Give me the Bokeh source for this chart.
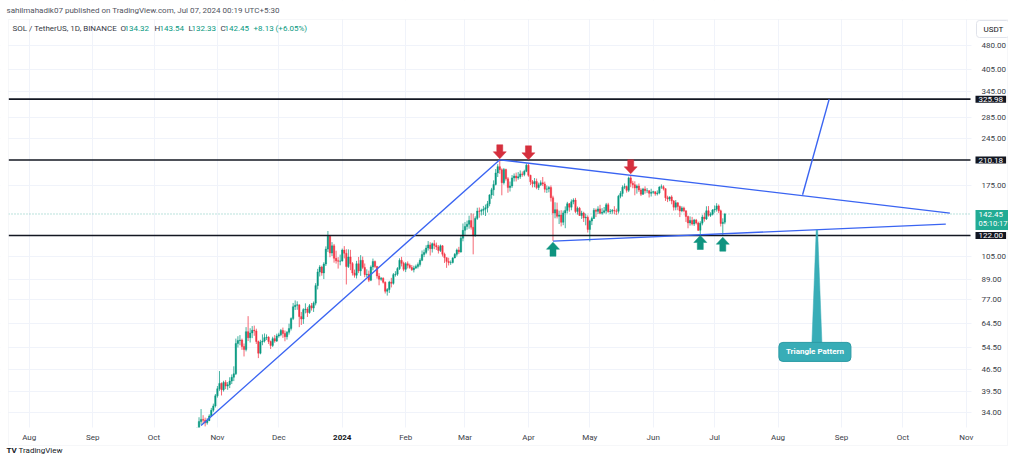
import numpy as np
import pandas as pd
from bokeh.plotting import figure
from bokeh.models import (FixedTicker, Label, Grid, BoxAnnotation, ColumnDataSource)
from bokeh.embed import file_html
from bokeh.resources import INLINE

# ------------------------------------------------------------------ data
BASE = pd.Timestamp("2023-08-01")

candle_start = "2023-10-22"
first_open = 29.7

close_oct = [29.9, 31.9, 32.4, 32.2, 31.6, 32.1, 33.2, 34.6, 35.7, 38.4]
high_oct = [30.6, 32.9, 34.9, 33.4, 32.8, 32.7, 33.6, 35.2, 36.3, 38.9]
low_oct = [29.0, 29.5, 31.2, 31.4, 30.8, 31.2, 32.0, 33.0, 34.2, 35.3]

close_nov = [40.4, 42.0, 40.1, 42.3, 41.2, 41.6, 42.7, 43.9, 45.0, 56.0,
             57.2, 57.4, 54.8, 53.6, 61.0, 58.4, 60.4, 61.6, 61.3, 56.8,
             52.2, 56.6, 57.0, 58.4, 58.6, 56.8, 55.2, 58.0, 57.0, 59.1]
high_nov = [41.2, 45.9, 42.3, 42.8, 43.0, 42.4, 43.9, 44.8, 47.5, 58.0,
            59.0, 59.5, 58.0, 56.0, 63.0, 68.2, 62.5, 63.5, 63.7, 62.3,
            57.2, 57.5, 59.8, 60.2, 59.8, 59.0, 57.2, 58.8, 59.5, 60.1]
low_nov = [37.9, 39.8, 38.5, 39.6, 40.3, 40.1, 40.6, 41.8, 42.7, 44.6,
           54.4, 55.3, 53.5, 51.0, 52.9, 57.0, 56.4, 58.2, 59.2, 55.8,
           50.4, 51.8, 55.3, 56.4, 57.4, 55.8, 53.8, 54.6, 56.3, 56.6]

close_dec = [59.6, 61.5, 60.2, 58.8, 60.7, 62.4, 67.0, 73.0, 73.8, 74.0,
             68.0, 66.8, 71.5, 71.8, 70.0, 73.5, 72.3, 74.9, 85.0, 93.8,
             97.2, 93.1, 99.3, 110.6, 121.4, 107.5, 113.2, 103.5, 101.6, 101.4,
             101.5]
high_dec = [60.5, 62.2, 62.8, 61.5, 61.3, 64.6, 67.6, 75.0, 76.4, 75.9,
            74.2, 70.3, 72.2, 74.8, 72.8, 74.4, 75.0, 75.8, 86.5, 95.9,
            98.5, 98.1, 100.6, 112.8, 126.0, 121.8, 116.3, 114.8, 109.3, 104.4,
            106.3]
low_dec = [58.4, 59.0, 58.3, 56.9, 57.6, 59.7, 61.5, 66.3, 71.3, 71.4,
           63.0, 64.0, 64.5, 69.6, 67.8, 69.4, 71.0, 70.3, 73.7, 82.7,
           90.8, 91.3, 89.1, 97.9, 108.3, 104.3, 105.2, 100.3, 99.6, 96.1,
           98.4]

close_jan = [109.8, 107.3, 97.5, 104.5, 99.6, 93.1, 91.6, 99.5, 94.5, 102.0,
             96.9, 92.0, 92.3, 88.4, 97.2, 101.2, 97.6, 91.1, 89.0, 89.7,
             87.1, 81.6, 82.6, 87.2, 86.4, 92.0, 92.3, 96.1, 102.0, 99.8,
             95.6]
high_jan = [111.0, 113.0, 110.5, 110.4, 110.0, 100.7, 95.4, 101.6, 104.5, 105.9,
            104.8, 99.7, 95.6, 94.7, 98.3, 103.3, 101.8, 98.0, 93.0, 90.4,
            90.2, 87.6, 83.5, 88.0, 89.9, 93.1, 94.3, 97.1, 103.5, 104.6,
            101.0]
low_jan = [101.1, 103.4, 85.7, 96.5, 95.0, 91.4, 90.0, 89.5, 93.0, 91.2,
           95.7, 90.3, 90.3, 87.2, 87.8, 94.9, 96.4, 89.4, 85.2, 88.0,
           86.3, 80.3, 79.1, 80.6, 83.9, 85.6, 90.7, 91.2, 95.1, 97.6,
           94.3]

close_feb = [99.5, 98.4, 96.9, 95.3, 96.5, 97.6, 98.9, 102.0, 106.4, 108.0,
             111.4, 114.0, 110.9, 115.0, 113.6, 112.3, 109.4, 113.2, 106.6, 104.0,
             101.2, 100.3, 100.4, 103.8, 106.5, 109.9, 108.3, 119.7, 126.6]
high_feb = [100.7, 101.2, 99.6, 98.6, 98.1, 98.9, 100.4, 103.5, 109.5, 110.3,
            113.7, 117.2, 116.2, 115.9, 118.0, 115.9, 113.8, 114.3, 113.8, 107.8,
            104.0, 103.9, 101.9, 104.2, 107.5, 111.0, 112.4, 122.0, 133.0]
low_feb = [93.7, 96.2, 95.9, 94.5, 93.5, 95.8, 96.2, 97.5, 101.4, 104.4,
           106.6, 109.4, 105.6, 107.9, 110.5, 109.9, 107.1, 108.3, 104.8, 100.1,
           96.6, 98.3, 98.7, 99.7, 103.5, 104.8, 106.7, 107.8, 117.0]

close_mar = [130.2, 132.3, 135.8, 129.5, 121.6, 138.0, 145.5, 145.3, 146.3, 147.5,
             149.0, 153.3, 163.5, 169.6, 176.3, 191.5, 200.4, 196.0, 178.5, 196.2,
             183.6, 172.3, 174.4, 184.8, 187.3, 184.7, 186.4, 190.2, 189.3, 193.8,
             202.4]
high_mar = [134.4, 135.8, 140.7, 143.2, 142.8, 140.1, 149.0, 149.3, 148.0, 151.0,
            152.5, 156.5, 164.2, 172.0, 181.5, 197.0, 204.0, 210.2, 198.0, 198.5,
            197.5, 185.9, 180.0, 188.6, 190.8, 192.0, 192.7, 195.0, 193.5, 196.0,
            205.2]
low_mar = [122.3, 127.2, 128.1, 127.3, 106.5, 121.0, 136.5, 138.7, 141.0, 141.6,
           140.4, 144.0, 150.6, 159.0, 162.5, 175.0, 186.0, 190.4, 163.0, 176.2,
           181.2, 166.0, 167.5, 172.0, 180.0, 180.1, 182.4, 183.5, 186.3, 187.0,
           192.6]

close_apr = [188.3, 179.6, 177.0, 180.2, 172.4, 175.8, 178.4, 176.9, 170.3, 170.7,
             172.4, 160.2, 143.4, 147.0, 140.1, 141.4, 134.2, 143.6, 146.2, 153.4,
             149.6, 155.6, 157.5, 145.1, 148.4, 140.9, 143.4, 138.5, 139.2, 127.4]
high_apr = [205.0, 189.0, 182.0, 184.6, 183.9, 178.6, 181.5, 186.0, 179.9, 175.0,
            174.3, 175.0, 162.5, 155.0, 154.6, 145.9, 146.4, 146.0, 150.5, 155.5,
            154.2, 158.2, 159.5, 160.0, 150.3, 149.9, 145.8, 144.8, 142.8, 141.1]
low_apr = [186.3, 175.5, 172.5, 172.7, 170.3, 169.3, 174.2, 174.2, 166.3, 165.8,
           166.5, 155.8, 117.3, 138.1, 138.0, 132.5, 130.2, 131.4, 128.6, 143.1,
           144.8, 146.3, 152.8, 143.3, 141.8, 140.6, 137.5, 134.5, 131.3, 124.6]

close_may = [135.4, 137.9, 146.4, 145.2, 147.8, 143.3, 144.2, 145.9, 152.3, 144.9,
             145.4, 146.2, 145.6, 145.3, 161.8, 165.2, 172.7, 173.6, 168.9, 184.8,
             177.9, 175.9, 171.9, 174.2, 169.3, 164.3, 170.6, 168.5, 168.5, 165.3,
             166.6]
high_may = [136.6, 139.8, 148.6, 148.1, 150.6, 152.2, 148.6, 149.8, 154.3, 154.4,
            147.7, 147.6, 150.7, 148.0, 163.5, 168.0, 175.1, 177.5, 174.8, 186.5,
            188.3, 180.9, 180.3, 176.2, 177.5, 171.5, 172.0, 173.9, 171.7, 169.2,
            170.9]
low_may = [116.8, 131.5, 137.5, 139.3, 142.4, 142.4, 141.7, 143.0, 142.7, 143.7,
           142.3, 142.7, 142.2, 141.4, 143.0, 159.5, 161.5, 170.4, 166.2, 166.8,
           172.8, 171.5, 163.0, 165.0, 166.9, 162.1, 163.4, 165.0, 165.6, 160.4,
           161.6]

close_jun = [167.3, 164.8, 165.7, 172.9, 173.4, 171.0, 160.1, 158.6, 161.1, 156.5,
             149.6, 154.4, 150.4, 145.6, 148.8, 145.8, 139.9, 133.6, 136.0, 132.5,
             136.4, 133.4, 126.6, 133.3, 139.4, 137.5, 145.8, 141.1, 142.3, 146.6]
high_jun = [168.4, 167.6, 168.8, 174.0, 176.3, 175.2, 171.5, 162.5, 161.7, 163.0,
            157.5, 157.5, 155.0, 151.4, 150.6, 150.2, 146.0, 140.8, 140.0, 139.5,
            137.5, 137.5, 134.8, 135.2, 141.6, 143.8, 150.6, 150.8, 144.2, 147.6]
low_jun = [164.7, 162.5, 162.8, 164.2, 170.8, 168.8, 156.5, 155.2, 156.2, 152.8,
           146.0, 146.3, 146.4, 139.3, 144.2, 144.3, 134.5, 128.5, 131.0, 131.1,
           130.6, 132.1, 126.0, 122.5, 131.3, 134.8, 136.4, 139.8, 139.5, 141.0]

close_jul = [147.4, 151.0, 145.7, 133.0, 134.32, 142.45]
high_jul = [151.5, 154.0, 152.6, 147.0, 138.1, 143.54]
low_jul = [143.8, 144.9, 143.3, 130.2, 122.0, 132.33]

month_ticks = ["2023-08-01", "2023-09-01", "2023-10-01", "2023-11-01", "2023-12-01",
               "2024-01-01", "2024-02-01", "2024-03-01", "2024-04-01", "2024-05-01",
               "2024-06-01", "2024-07-01", "2024-08-01", "2024-09-01", "2024-10-01",
               "2024-11-01"]
month_labels = ["Aug", "Sep", "Oct", "Nov", "Dec", "2024", "Feb", "Mar", "Apr", "May",
                "Jun", "Jul", "Aug", "Sep", "Oct", "Nov"]
price_ticks = [480, 405, 345, 285, 245, 175, 105, 89, 77, 64.5, 54.5, 46.5, 39.5, 34]

levels = [325.98, 210.18, 122.00]
countdown = "05:10:17"

trend_start_dates = ["2023-10-24", "2024-03-18", "2024-04-13", "2024-08-13"]
trend_start_prices = [31.0, 210.5, 117.1, 163.6]
trend_end_dates = ["2024-03-18", "2024-10-24", "2024-10-22", "2024-08-26"]
trend_end_prices = [210.5, 143.3, 132.4, 325.98]

top_marker_dates = ["2024-03-18", "2024-04-01", "2024-05-21"]
top_marker_tip = [212.1, 210.5, 190.3]
bottom_marker_dates = ["2024-04-13", "2024-06-24", "2024-07-05"]
bottom_marker_tip = [116.2, 122.0, 120.5]

callout_text = "Triangle Pattern"
callout_date = "2024-08-20"
callout_tip_price = 126.9
callout_box_price = 52.7

# ------------------------------------------------------------------ layout constants
W, H = 1008, 454
PX_PER_DAY = 2.046          # horizontal scale
DAY0_PX = 28.7              # pixel of 2023-08-01
PX_PER_LN = 138.7           # vertical (log) scale
REF_PRICE, REF_PY = 480.0, 45.0
PANE_L, PANE_R, PANE_T, PANE_B = 8, 970, 19, 427   # chart pane in pixels

def day(d):
    return (pd.Timestamp(d) - BASE).days

def px_day(px):
    return (px - DAY0_PX) / PX_PER_DAY

def py_price(py):
    return REF_PRICE * np.exp(-(py - REF_PY) / PX_PER_LN)

def sy(py):  # screen y (from bottom) for a pixel row from top
    return H - py

# ------------------------------------------------------------------ candles
closes = (close_oct + close_nov + close_dec + close_jan + close_feb + close_mar +
          close_apr + close_may + close_jun + close_jul)
highs = (high_oct + high_nov + high_dec + high_jan + high_feb + high_mar +
         high_apr + high_may + high_jun + high_jul)
lows = (low_oct + low_nov + low_dec + low_jan + low_feb + low_mar +
        low_apr + low_may + low_jun + low_jul)
n = min(len(closes), len(highs), len(lows))
closes, highs, lows = closes[:n], highs[:n], lows[:n]

x = np.arange(n) + day(candle_start)
o = np.array([first_open] + closes[:-1])
c = np.array(closes)
h = np.maximum(np.array(highs), np.maximum(o, c))
l = np.minimum(np.array(lows), np.minimum(o, c))
UP, DN = "#089981", "#f23645"
col = np.where(c >= o, UP, DN)
src = ColumnDataSource(dict(x=x, h=h, l=l, top=np.maximum(o, c),
                            bot=np.minimum(o, c), col=col))

FONT = "Roboto"
TXT = "#3b3e48"
DARK = "#131722"

# ------------------------------------------------------------------ figure
p = figure(width=W, height=H, y_axis_type="log",
           x_axis_location=None, y_axis_location=None,
           x_range=(px_day(0), px_day(W)), y_range=(py_price(H), py_price(0)),
           output_backend="svg", toolbar_location=None,
           min_border=0)
p.outline_line_color = None
p.background_fill_color = "white"
p.border_fill_color = "white"
p.grid.visible = False

tick_days = [day(d) for d in month_ticks]
GRID = "#f0f3fa"
p.add_layout(Grid(dimension=0, ticker=FixedTicker(ticks=tick_days), grid_line_color=GRID))
p.add_layout(Grid(dimension=1, ticker=FixedTicker(ticks=price_ticks), grid_line_color=GRID))

# candles
p.segment(x0="x", y0="h", x1="x", y1="l", source=src, line_color="col",
          line_width=1, line_alpha=0.75)
p.vbar(x="x", width=0.72, top="top", bottom="bot", source=src, fill_color="col",
       line_color="col", line_width=0.4)

# horizontal levels (within the pane)
xl, xr = px_day(PANE_L), px_day(PANE_R)
p.segment(x0=[xl] * len(levels), y0=levels, x1=[xr] * len(levels), y1=levels,
          line_color=DARK, line_width=1.6)
p.segment(x0=[xl], y0=[float(c[-1])], x1=[xr], y1=[float(c[-1])], line_color=UP,
          line_dash="1 2", line_width=0.8, line_alpha=0.7)

# trend lines
p.segment(x0=[day(d) for d in trend_start_dates], y0=trend_start_prices,
          x1=[day(d) for d in trend_end_dates], y1=trend_end_prices,
          line_color="#3a64f2", line_width=1.4)

# block arrows (shape in pixels relative to the tip)
ARROW = [(0, 0), (6.5, 7), (3, 7), (3, 14), (-3, 14), (-3, 7), (-6.5, 7)]

def arrow_shapes(dates, tips, sign):
    xs, ys = [], []
    for d, t in zip(dates, tips):
        xs.append([day(d) + dx / PX_PER_DAY for dx, dy in ARROW])
        ys.append([t * np.exp(sign * dy / PX_PER_LN) for dx, dy in ARROW])
    return xs, ys

xs, ys = arrow_shapes(top_marker_dates, top_marker_tip, +1)
p.patches(xs, ys, fill_color="#d52f3d", line_color="#d52f3d", line_width=0.5)
xs, ys = arrow_shapes(bottom_marker_dates, bottom_marker_tip, -1)
p.patches(xs, ys, fill_color="#0f9480", line_color="#0f9480", line_width=0.5)

# callout spike + box
cd = day(callout_date)
TEAL = "#38adb7"
base_price = callout_box_price * np.exp(9.5 / PX_PER_LN)
p.patch(x=[cd - 0.7 / PX_PER_DAY, cd + 0.7 / PX_PER_DAY, cd + 5 / PX_PER_DAY, cd - 5 / PX_PER_DAY],
        y=[callout_tip_price, callout_tip_price, base_price, base_price],
        fill_color=TEAL, line_color=TEAL, line_width=0.5)

# white masks outside the chart pane (hide grid / wicks there)
WHITE = dict(fill_color="white", fill_alpha=1.0, line_color=None,
             left_units="screen", right_units="screen", top_units="screen",
             bottom_units="screen")
p.add_layout(BoxAnnotation(left=PANE_R + 1, right=W, bottom=0, top=H, **WHITE))
p.add_layout(BoxAnnotation(left=0, right=W, bottom=0, top=sy(PANE_B), **WHITE))
p.add_layout(BoxAnnotation(left=0, right=W, bottom=sy(PANE_T), top=H, **WHITE))
p.add_layout(BoxAnnotation(left=0, right=PANE_L, bottom=0, top=H, **WHITE))
# faint outer frame of the chart
p.add_layout(BoxAnnotation(left=PANE_L, right=W - 1, bottom=sy(445), top=sy(PANE_T),
                           left_units="screen", right_units="screen",
                           top_units="screen", bottom_units="screen",
                           fill_alpha=0, line_color="#e0e3eb", line_width=1))

p.add_layout(Label(x=cd, x_offset=-2, y=callout_box_price, text=callout_text,
                   text_align="center", text_baseline="middle", text_color="white",
                   text_font=FONT, text_font_style="bold", text_font_size="8px",
                   background_fill_color=TEAL, border_line_color="#2a9aa4",
                   border_radius=4,
                   padding=dict(left=7, right=7, top=5, bottom=5)))

# price scale labels
for t in price_ticks:
    p.add_layout(Label(x=981, y=t, x_units="screen", text=f"{t:.2f}",
                       text_baseline="middle", text_color=TXT, text_font=FONT,
                       text_font_size="8px"))
# price tags
for lv in levels:
    p.add_layout(Label(x=975, y=lv, x_units="screen", text=f"{lv:.2f}",
                       text_baseline="middle", text_color="white", text_font=FONT,
                       text_font_size="8px", background_fill_color=DARK,
                       padding=dict(left=3, right=3, top=1, bottom=1)))
TAG_G = "#22ab94"
p.add_layout(Label(x=975, y=float(c[-1]), x_units="screen", text=f"{c[-1]:.2f}",
                   text_baseline="middle", text_color="white", text_font=FONT,
                   text_font_size="8px", background_fill_color=TAG_G,
                   padding=dict(left=3, right=6, top=2, bottom=1)))
p.add_layout(Label(x=975, y=float(c[-1]), y_offset=-10, x_units="screen", text=countdown,
                   text_baseline="middle", text_color="white", text_font=FONT,
                   text_font_size="7.5px", background_fill_color=TAG_G,
                   padding=dict(left=3, right=2, top=1, bottom=2)))
p.add_layout(Label(x=976, y=sy(28.5), x_units="screen", y_units="screen", text="USDT",
                   text_baseline="middle", text_color=DARK, text_font=FONT,
                   text_font_size="8px", background_fill_color="white",
                   border_line_color="#e0e3eb", border_radius=3,
                   padding=dict(left=7, right=6, top=4, bottom=4)))

# time scale labels
for d, lbl in zip(tick_days, month_labels):
    bold = lbl.isdigit()
    p.add_layout(Label(x=d, y=sy(437), y_units="screen", text=lbl,
                       text_align="center", text_baseline="middle",
                       text_color=DARK if bold else TXT, text_font=FONT,
                       text_font_style="bold" if bold else "normal",
                       text_font_size="8px"))

# header + legend
def lab(sx, py, text, color=TXT, size="8px", bold=False):
    p.add_layout(Label(x=sx, y=sy(py), x_units="screen", y_units="screen", text=text,
                       text_baseline="middle", text_color=color, text_font=FONT,
                       text_font_size=size,
                       text_font_style="bold" if bold else "normal"))

lab(6, 9.5, "sahilmahadik07 published on TradingView.com, Jul 07, 2024 00:19 UTC+5:30",
    color="#50535e")
lab(12, 28, "SOL / TetherUS, 1D, BINANCE", color="#363a45")
chg = c[-1] - o[-1]
pct = chg / o[-1] * 100
items = [(120, "O", None), (124, f"{o[-1]:.2f}", UP), (154, "H", None),
         (159, f"{h[-1]:.2f}", UP), (188, "L", None), (191, f"{l[-1]:.2f}", UP),
         (220, "C", None), (224, f"{c[-1]:.2f}", UP),
         (253, f"{chg:+.2f} ({pct:+.2f}%)", UP)]
for sx_, t, colr in items:
    lab(sx_, 28, t, color=colr or "#363a45")

lab(6, 449.5, "TV", color=DARK, size="8px", bold=True)
lab(18, 449.5, "TradingView", color=DARK, size="8px")

open("out.html", "w").write(file_html(p, INLINE))
